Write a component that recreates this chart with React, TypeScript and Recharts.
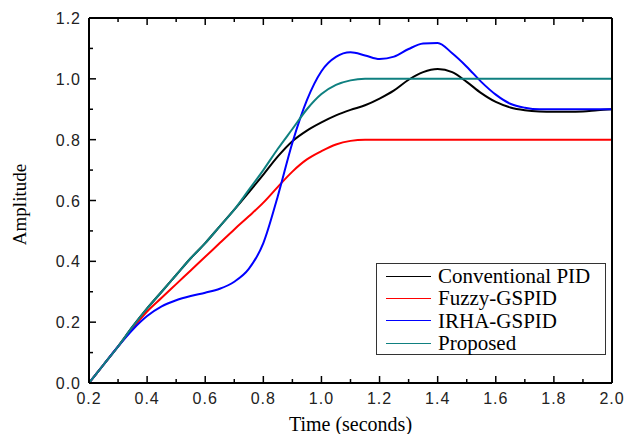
import React from "react";
import { LineChart, Line, XAxis, YAxis, Legend, Label } from "recharts";

const TIME = [
  0.2, 0.25, 0.3, 0.35, 0.4, 0.45, 0.5, 0.55, 0.6, 0.65, 0.7, 0.75, 0.8, 0.85, 0.9, 0.95, 1.0, 1.05, 1.1,
  1.15, 1.2, 1.25, 1.3, 1.35, 1.4, 1.45, 1.5, 1.55, 1.6, 1.65, 1.7, 1.75, 1.8, 1.85, 1.9, 1.95, 2.0,
];
const CONVENTIONAL = [
  0, 0.06, 0.12, 0.185, 0.245, 0.3, 0.355, 0.41, 0.46, 0.515, 0.57, 0.627, 0.685, 0.745, 0.795, 0.83, 0.857,
  0.88, 0.898, 0.913, 0.935, 0.962, 0.997, 1.022, 1.032, 1.022, 0.99, 0.953, 0.924, 0.906, 0.897, 0.893, 0.892,
  0.892, 0.893, 0.897, 0.9,
];
const FUZZY = [
  0, 0.06, 0.12, 0.18, 0.235, 0.28, 0.325, 0.37, 0.415, 0.46, 0.505, 0.548, 0.593, 0.645, 0.695, 0.735, 0.762,
  0.784, 0.796, 0.8, 0.8, 0.8, 0.8, 0.8, 0.8, 0.8, 0.8, 0.8, 0.8, 0.8, 0.8, 0.8, 0.8, 0.8, 0.8, 0.8, 0.8,
];
const IRHA = [
  0, 0.06, 0.12, 0.175, 0.22, 0.252, 0.272, 0.286, 0.297, 0.31, 0.333, 0.375, 0.46, 0.615, 0.79, 0.93, 1.025,
  1.072, 1.087, 1.077, 1.065, 1.073, 1.098, 1.116, 1.118, 1.084, 1.04, 0.99, 0.948, 0.918, 0.905, 0.9, 0.9, 0.9,
  0.9, 0.9, 0.9,
];
const PROPOSED = [
  0, 0.06, 0.12, 0.185, 0.245, 0.3, 0.355, 0.41, 0.46, 0.515, 0.57, 0.635, 0.7, 0.77, 0.835, 0.9, 0.95, 0.98,
  0.995, 1.0, 1.0, 1.0, 1.0, 1.0, 1.0, 1.0, 1.0, 1.0, 1.0, 1.0, 1.0, 1.0, 1.0, 1.0, 1.0, 1.0, 1.0,
];

const X_TICKS = [0.2, 0.3, 0.4, 0.5, 0.6, 0.7, 0.8, 0.9, 1.0, 1.1, 1.2, 1.3, 1.4, 1.5, 1.6, 1.7, 1.8, 1.9, 2.0];
const Y_TICKS = [0, 0.1, 0.2, 0.3, 0.4, 0.5, 0.6, 0.7, 0.8, 0.9, 1.0, 1.1, 1.2];

const SERIES = [
  { key: "conventional", name: "Conventional PID", color: "#000000" },
  { key: "fuzzy", name: "Fuzzy-GSPID", color: "#ff0000" },
  { key: "irha", name: "IRHA-GSPID", color: "#0000ff" },
  { key: "proposed", name: "Proposed", color: "#0f8080" },
];

const data = TIME.map((t, i) => ({
  t,
  conventional: CONVENTIONAL[i],
  fuzzy: FUZZY[i],
  irha: IRHA[i],
  proposed: PROPOSED[i],
}));

const isMajor = (v: number) => Math.round(v * 10) % 2 === 0;
const tickFont = { fontFamily: "'Liberation Sans', Arial, sans-serif", fontSize: 16, letterSpacing: 1 };

// inward ticks, labels only on the bottom / left majors
const BottomTick = (props: any) => {
  const { x, y, payload } = props;
  const major = isMajor(payload.value);
  return (
    <g>
      <line x1={x} y1={y} x2={x} y2={y - (major ? 7 : 4)} stroke="#000" strokeWidth={1.5} />
      {major && (
        <text x={x} y={y + 21} textAnchor="middle" fill="#222" style={tickFont}>
          {payload.value.toFixed(1)}
        </text>
      )}
    </g>
  );
};

const TopTick = (props: any) => {
  const { x, y, payload } = props;
  return <line x1={x} y1={y} x2={x} y2={y + (isMajor(payload.value) ? 7 : 4)} stroke="#000" strokeWidth={1.5} />;
};

const LeftTick = (props: any) => {
  const { x, y, payload } = props;
  const major = isMajor(payload.value);
  return (
    <g>
      <line x1={x} y1={y} x2={x + (major ? 7 : 4)} y2={y} stroke="#000" strokeWidth={1.5} />
      {major && (
        <text x={x - 8} y={y + 6} textAnchor="end" fill="#222" style={tickFont}>
          {payload.value.toFixed(1)}
        </text>
      )}
    </g>
  );
};

const RightTick = (props: any) => {
  const { x, y, payload } = props;
  return <line x1={x} y1={y} x2={x - (isMajor(payload.value) ? 7 : 4)} y2={y} stroke="#000" strokeWidth={1.5} />;
};

const LegendBox = () => (
  <div
    style={{
      width: 228,
      height: 89,
      border: "1px solid #333",
      background: "#fff",
      boxSizing: "content-box",
      paddingTop: 1,
    }}
  >
    {SERIES.map((s) => (
      <div key={s.key} style={{ display: "flex", alignItems: "center", height: 22.3 }}>
        <div style={{ width: 45, height: 0, borderTop: `1.5px solid ${s.color}`, marginLeft: 9, marginRight: 7 }} />
        <span style={{ fontFamily: "'Liberation Serif', 'Times New Roman', serif", fontSize: 21, lineHeight: "22px", color: "#000" }}>
          {s.name}
        </span>
      </div>
    ))}
  </div>
);

export default function App() {
  return (
    <div style={{ position: "absolute", left: 0, top: 0, width: 624, height: 434, background: "#fff" }}>
      <LineChart width={624} height={434} data={data} margin={{ top: 0, right: 0, bottom: 0, left: 0 }}>
        <XAxis
          xAxisId="bottom"
          dataKey="t"
          type="number"
          domain={[0.2, 2.0]}
          ticks={X_TICKS}
          interval={0}
          height={51}
          tickSize={0}
          tickMargin={0}
          tick={<BottomTick />}
          axisLine={{ stroke: "#000", strokeWidth: 2 }}
        >
          <Label
            content={(p: any) => {
              const vb = p.viewBox;
              return (
                <text
                  x={vb.x + vb.width / 2}
                  y={vb.y + 48}
                  textAnchor="middle"
                  style={{ fontFamily: "'Liberation Serif', 'Times New Roman', serif", fontSize: 20, fill: "#000" }}
                >
                  Time (seconds)
                </text>
              );
            }}
          />
        </XAxis>
        <XAxis
          xAxisId="top"
          orientation="top"
          dataKey="t"
          type="number"
          domain={[0.2, 2.0]}
          ticks={X_TICKS}
          interval={0}
          height={18}
          tickSize={0}
          tickMargin={0}
          tick={<TopTick />}
          axisLine={{ stroke: "#000", strokeWidth: 2 }}
        />
        <YAxis
          yAxisId="left"
          type="number"
          domain={[0, 1.2]}
          ticks={Y_TICKS}
          interval={0}
          width={89}
          tickSize={0}
          tickMargin={0}
          tick={<LeftTick />}
          axisLine={{ stroke: "#000", strokeWidth: 2 }}
        >
          <Label
            content={(p: any) => {
              const vb = p.viewBox;
              const cx = 19;
              const cy = vb.y + vb.height / 2 + 4;
              return (
                <text
                  x={cx}
                  y={cy}
                  textAnchor="middle"
                  dominantBaseline="central"
                  transform={`rotate(-90 ${cx} ${cy})`}
                  style={{ fontFamily: "'Liberation Serif', 'Times New Roman', serif", fontSize: 19, fill: "#000" }}
                >
                  Amplitude
                </text>
              );
            }}
          />
        </YAxis>
        <YAxis
          yAxisId="right"
          orientation="right"
          type="number"
          domain={[0, 1.2]}
          ticks={Y_TICKS}
          interval={0}
          width={12}
          tickSize={0}
          tickMargin={0}
          tick={<RightTick />}
          axisLine={{ stroke: "#000", strokeWidth: 2 }}
        />
        {SERIES.map((s) => (
          <Line
            key={s.key}
            xAxisId="bottom"
            yAxisId="left"
            type="monotone"
            dataKey={s.key}
            name={s.name}
            stroke={s.color}
            strokeWidth={2}
            dot={false}
            isAnimationActive={false}
          />
        ))}
        <Legend
          layout="vertical"
          align="center"
          verticalAlign="middle"
          content={<LegendBox />}
          wrapperStyle={{ left: 376, top: 263, width: 230, height: 91 }}
        />
      </LineChart>
    </div>
  );
}
